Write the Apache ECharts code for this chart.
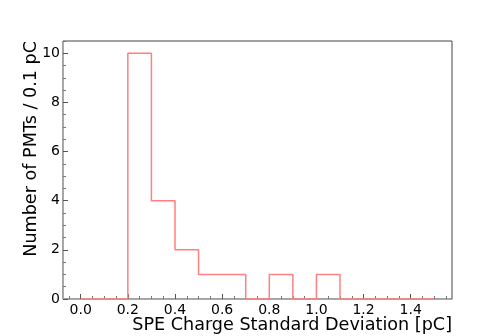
<!DOCTYPE html>
<html>
<head>
<meta charset="utf-8">
<script src="https://cdn.jsdelivr.net/npm/echarts@6/dist/echarts.min.js"></script>
<style>html,body{margin:0;padding:0;background:#fff}#c{width:503px;height:336px}</style>
</head>
<body>
<div id="c"></div>
<script>
// Histogram bin edges and counts (bin width 0.1 pC)
const binEdges = [0.0,0.1,0.2,0.3,0.4,0.5,0.6,0.7,0.8,0.9,1.0,1.1,1.2,1.3,1.4,1.5];
const counts   = [0,0,10,4,2,1,1,0,1,0,1,0,0,0,0];
const xTicks = [0.0,0.2,0.4,0.6,0.8,1.0,1.2,1.4];
const xMinorTicks = [-0.05,0.05,0.1,0.15,0.25,0.3,0.35,0.45,0.5,0.55,0.65,0.7,0.75,0.85,0.9,0.95,1.05,1.1,1.15,1.25,1.3,1.35,1.45,1.5,1.55];
const yTicks = [0,2,4,6,8,10];
const yMinorTicks = [0.5,1,1.5,2.5,3,3.5,4.5,5,5.5,6.5,7,7.5,8.5,9,9.5,10.5];
const xLabel = 'SPE Charge Standard Deviation [pC]';
const yLabel = 'Number of PMTs / 0.1 pC';

const stepData = binEdges.map((e, i) => [e, i < counts.length ? counts[i] : counts[counts.length - 1]]);

const font = 'DejaVu Sans';
const chart = echarts.init(document.getElementById('c'), null, {renderer: 'canvas'});
const xBase = {type: 'value', min: -0.075, max: 1.575, splitLine: {show: false}};
const yBase = {type: 'value', min: 0, max: 10.5, splitLine: {show: false}};
chart.setOption({
  animation: false,
  grid: {left: 63, right: 51, top: 41, bottom: 37, show: true, borderColor: '#444', borderWidth: 1, backgroundColor: 'transparent'},
  xAxis: [
    Object.assign({}, xBase, {
      axisLine: {show: true, onZero: false, lineStyle: {color: '#aaa', width: 1}},
      axisTick: {show: true, inside: true, length: 5, customValues: xTicks, lineStyle: {color: '#555'}},
      axisLabel: {customValues: xTicks, formatter: v => v.toFixed(1), color: '#000', fontFamily: font, fontSize: 14, margin: 4}
    }),
    Object.assign({}, xBase, {
      position: 'bottom',
      axisLine: {show: false, onZero: false},
      axisTick: {show: true, inside: true, length: 3, customValues: xMinorTicks, lineStyle: {color: '#777'}},
      axisLabel: {show: false}
    })
  ],
  yAxis: [
    Object.assign({}, yBase, {
      axisLine: {show: true, onZero: false, lineStyle: {color: '#aaa', width: 1}},
      axisTick: {show: true, inside: true, length: 5, customValues: yTicks, lineStyle: {color: '#555'}},
      axisLabel: {customValues: yTicks, color: '#000', fontFamily: font, fontSize: 14, margin: 3}
    }),
    Object.assign({}, yBase, {
      position: 'left',
      axisLine: {show: false, onZero: false},
      axisTick: {show: true, inside: true, length: 3, customValues: yMinorTicks, lineStyle: {color: '#777'}},
      axisLabel: {show: false}
    })
  ],
  series: [{
    type: 'line',
    step: 'end',
    data: stepData,
    showSymbol: false,
    lineStyle: {color: '#ff8080', width: 1.5},
    clip: false
  }],
  graphic: [
    {type: 'text', x: 452, y: 325, style: {text: xLabel, font: '17.6px "DejaVu Sans"', fill: '#000', align: 'right', verticalAlign: 'middle'}},
    {type: 'text', x: 31, y: 41, rotation: Math.PI / 2, style: {text: yLabel, font: '17.6px "DejaVu Sans"', fill: '#000', align: 'right', verticalAlign: 'middle'}}
  ]
});
</script>
</body>
</html>
